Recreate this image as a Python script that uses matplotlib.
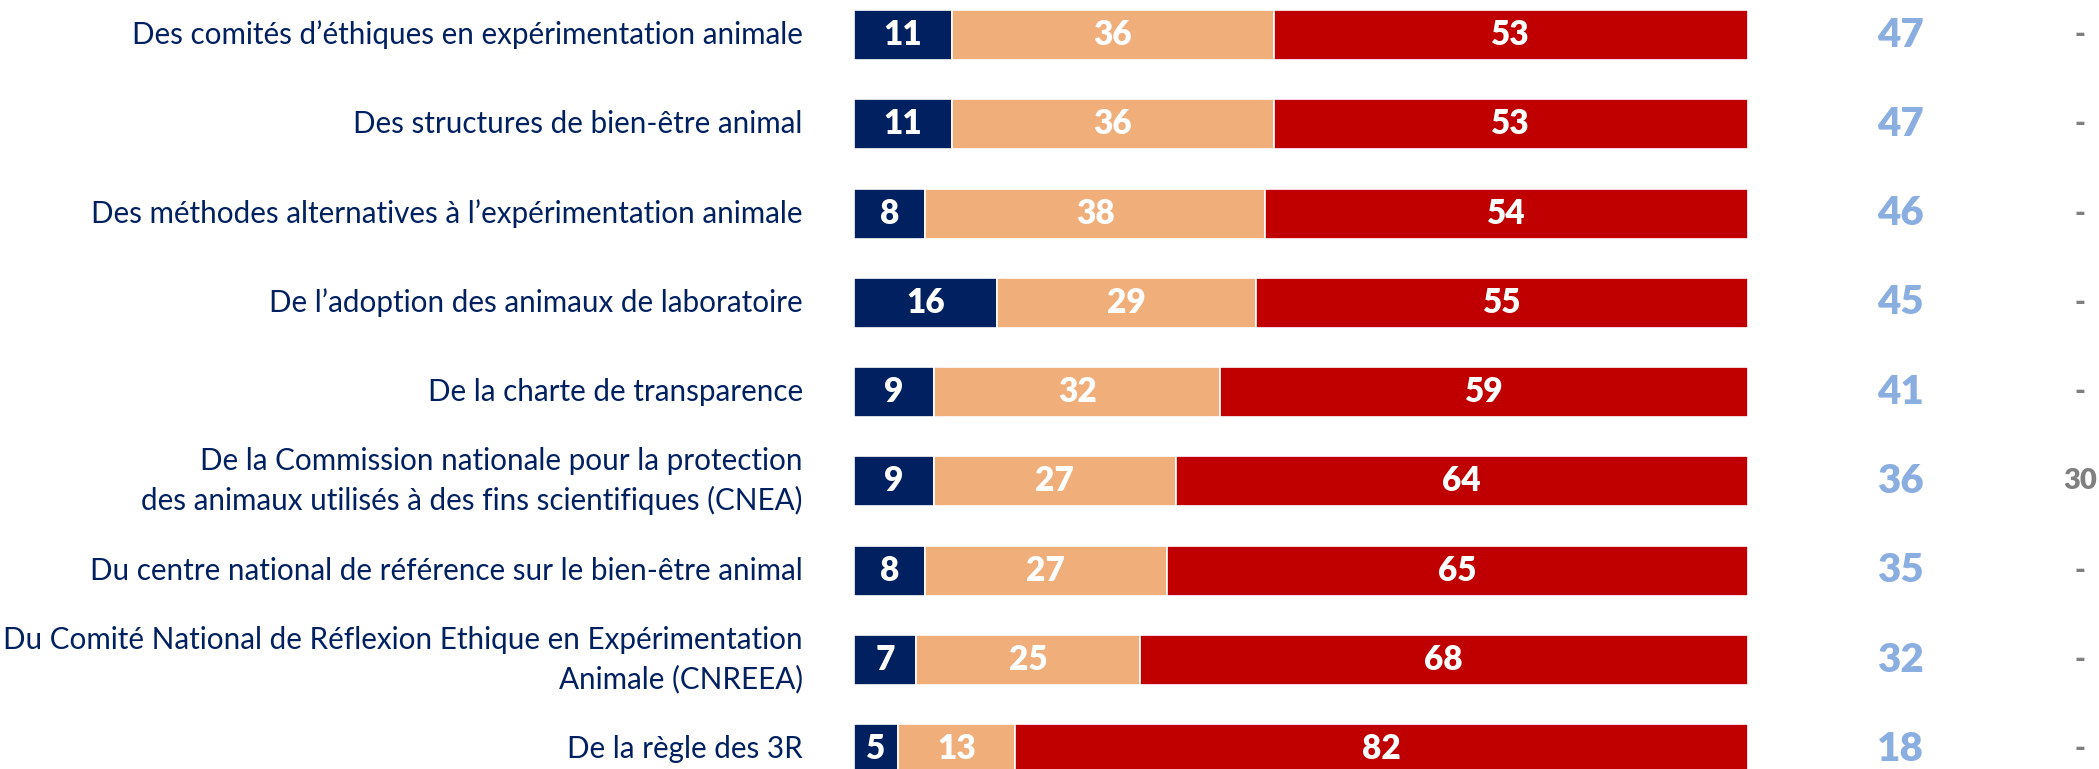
import matplotlib.pyplot as plt
import numpy as np

# Libellés (du haut vers le bas)
libelles = [
    "Des comités d’éthiques en expérimentation animale",
    "Des structures de bien-être animal",
    "Des méthodes alternatives à l’expérimentation animale",
    "De l’adoption des animaux de laboratoire",
    "De la charte de transparence",
    "De la Commission nationale pour la protection\ndes animaux utilisés à des fins scientifiques (CNEA)",
    "Du centre national de référence sur le bien-être animal",
    "Du Comité National de Réflexion Ethique en Expérimentation\nAnimale (CNREEA)",
    "De la règle des 3R",
]

# Pourcentages des trois segments
bien = [11, 11, 8, 16, 9, 9, 8, 7, 5]
moyen = [36, 36, 38, 29, 32, 27, 27, 25, 13]
pas = [53, 53, 54, 55, 59, 64, 65, 68, 82]

# Colonnes de droite
total = [47, 47, 46, 45, 41, 36, 35, 32, 18]
vague_prec = ["-", "-", "-", "-", "-", "30", "-", "-", "-"]

couleurs = ["#002060", "#F0AE7B", "#C00000"]
plt.rcParams['font.family'] = ['Lato', 'DejaVu Sans']

fig = plt.figure(figsize=(20.99, 7.69), dpi=100)
ax = fig.add_axes([0, 0, 1, 1])

y = np.arange(len(libelles))
h = 0.56
gauche = np.zeros(len(libelles))
for serie, c in zip([bien, moyen, pas], couleurs):
    vals = np.array(serie)
    ax.barh(y, vals, left=gauche, height=h, color=c, edgecolor='white', linewidth=1.2)
    for yi, g, v in zip(y, gauche, vals):
        ax.text(g + v / 2, yi, str(v), ha='center', va='center', color='white',
                fontsize=24, fontweight='heavy')
    gauche += vals

for yi, lab, t, p in zip(y, libelles, total, vague_prec):
    ax.text(-5.7, yi, lab, ha='right', va='center', color='#002060', fontsize=21.3,
            linespacing=1.45)
    ax.text(117.1, yi, str(t), ha='center', va='center', color='#8AAEE0',
            fontsize=29, fontweight='heavy')
    ax.text(137.2, yi, p, ha='center', va='center', color='#7F7F7F',
            fontsize=21, fontweight='heavy')

ax.set_xlim(-95.5, 139.3)
ax.set_ylim(8.22, -0.392)
ax.axis('off')

plt.savefig('out.png', dpi=100)
